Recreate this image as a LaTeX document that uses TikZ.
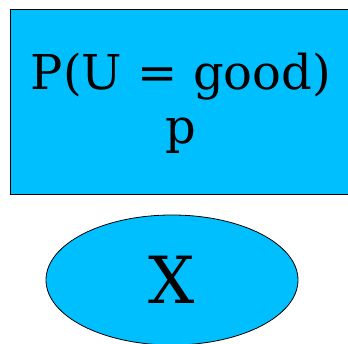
\documentclass[tikz,border=0pt]{standalone}
\usepackage{fontspec}
\setmainfont{DejaVu Serif}
\usepackage{tikz}
\usetikzlibrary{shapes.geometric, positioning}
\definecolor{nodeblue}{HTML}{00BFFF}

\begin{document}
\begin{tikzpicture}[
    x=1pt, y=-1pt,
    probbox/.style={rectangle, draw=black, fill=nodeblue, line width=0.8pt,
                    minimum width=390pt, minimum height=185pt, inner sep=0pt},
    probtext/.style={align=center, inner sep=0pt,
                     font=\fontsize{48}{54}\selectfont},
    varnode/.style={ellipse, draw=black, fill=nodeblue, line width=0.8pt,
                    minimum width=252pt, minimum height=130pt, inner sep=0pt,
                    font=\fontsize{65}{70}\selectfont},
]
    \useasboundingbox (0,0) rectangle (348,344);
    \clip (0,0) rectangle (348,344);

    % CPT box
    \node[probbox] (cpt) at (205,101.5) {};
    \node[probtext] (cpttext) at (181,103.5) {P(U = good)\\p};

    % Variable
    \node[varnode] (x) at (172,280) {X};
\end{tikzpicture}
\end{document}
